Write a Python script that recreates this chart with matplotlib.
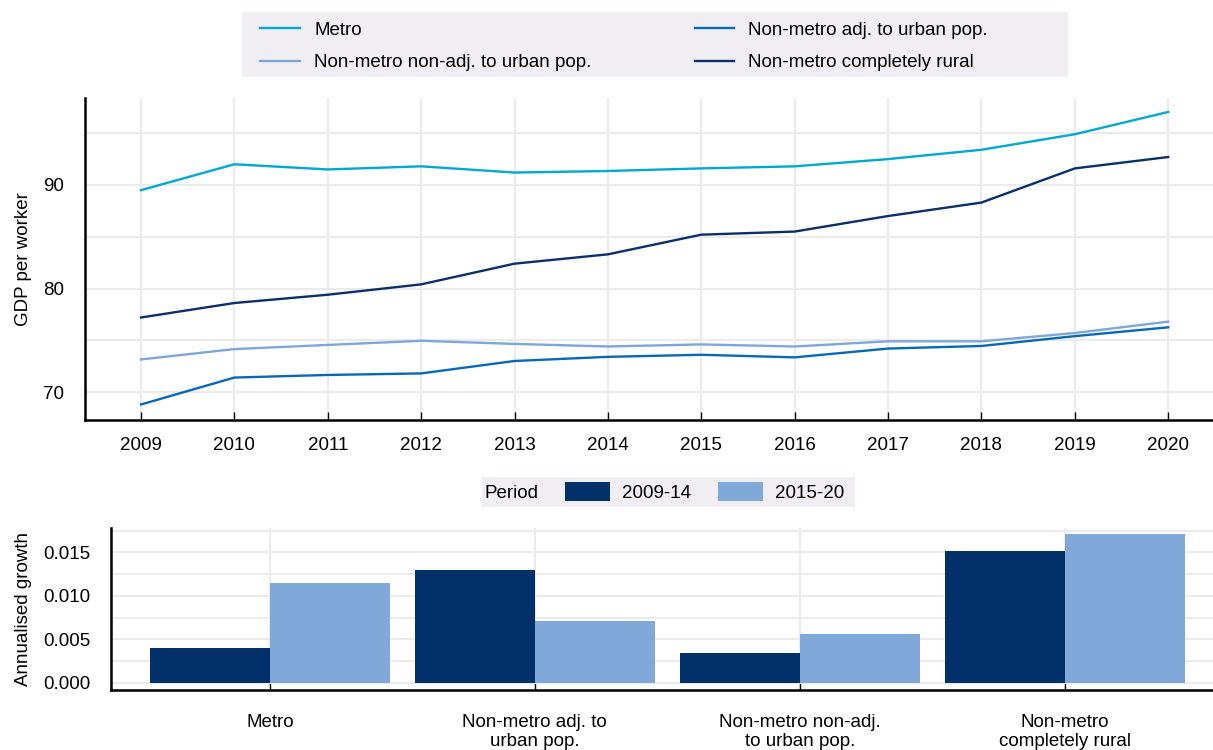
import matplotlib
matplotlib.use("Agg")
import matplotlib.pyplot as plt
import numpy as np
from matplotlib.ticker import MultipleLocator, FormatStrFormatter
from matplotlib.patches import Rectangle

plt.rcParams['font.family'] = ['Liberation Sans', 'DejaVu Sans']
FS = 13.5

years = [2009, 2010, 2011, 2012, 2013, 2014, 2015, 2016, 2017, 2018, 2019, 2020]
metro = [89.5, 92.0, 91.5, 91.8, 91.2, 91.35, 91.6, 91.8, 92.5, 93.4, 94.9, 97.05]
adj = [68.8, 71.4, 71.65, 71.8, 73.0, 73.4, 73.6, 73.35, 74.2, 74.45, 75.4, 76.25]
nonadj = [73.15, 74.15, 74.55, 74.95, 74.65, 74.4, 74.6, 74.4, 74.9, 74.9, 75.7, 76.8]
rural = [77.2, 78.6, 79.4, 80.4, 82.4, 83.3, 85.2, 85.5, 87.0, 88.3, 91.6, 92.7]

categories = ["Metro", "Non-metro adj. to\nurban pop.", "Non-metro non-adj.\nto urban pop.",
              "Non-metro\ncompletely rural"]
growth_0914 = [0.00404, 0.01293, 0.00343, 0.01521]
growth_1520 = [0.01143, 0.00712, 0.00562, 0.01706]

c_metro = "#00a9d0"
c_adj = "#0868b8"
c_nonadj = "#7ea6d9"
c_rural = "#0a2f6b"
c_dark = "#023069"
c_light = "#80a8d8"
grid_c = "#ebebeb"
leg_bg = "#f0eef2"

W, H = 1213, 750
fig = plt.figure(figsize=(12.13, 7.5), dpi=100)

def fx(px):
    return px / W

def fy(py):
    return 1 - py / H

# ---------- top line chart ----------
ax1 = fig.add_axes([fx(85), fy(420), 1 - fx(85), (420 - 98) / H])
l_metro, = ax1.plot(years, metro, color=c_metro, lw=1.7, label="Metro")
l_nonadj, = ax1.plot(years, nonadj, color=c_nonadj, lw=1.7, label="Non-metro non-adj. to urban pop.")
l_adj, = ax1.plot(years, adj, color=c_adj, lw=1.7, label="Non-metro adj. to urban pop.")
l_rural, = ax1.plot(years, rural, color=c_rural, lw=1.7, label="Non-metro completely rural")
ax1.set_xlim(2008.4, 2020.48)
ax1.set_ylim(67.3, 98.4)
ax1.set_xticks(years)
ax1.yaxis.set_major_locator(MultipleLocator(10))
ax1.yaxis.set_minor_locator(MultipleLocator(5))
ax1.grid(True, which='both', color=grid_c, lw=1.5)
ax1.set_axisbelow(True)
for s in ["top", "right"]:
    ax1.spines[s].set_visible(False)
for s in ["left", "bottom"]:
    ax1.spines[s].set_linewidth(1.8)
ax1.tick_params(axis='x', direction='in', length=6, width=1, pad=12, labelsize=FS)
ax1.tick_params(axis='y', which='both', length=0, pad=15, labelsize=FS)
ax1.set_ylabel("GDP per worker", fontsize=FS, labelpad=8)

fig.patches.append(Rectangle((fx(242), fy(77)), fx(1068 - 242), (77 - 12) / H,
                             transform=fig.transFigure, facecolor=leg_bg,
                             edgecolor='none', zorder=0))
leg1 = fig.legend([l_metro, l_nonadj, l_adj, l_rural],
                  ["Metro", "Non-metro non-adj. to urban pop.",
                   "Non-metro adj. to urban pop.", "Non-metro completely rural"],
                  ncol=2, loc='center left', bbox_to_anchor=(fx(260), fy(46.5)),
                  frameon=False, fontsize=FS, handlelength=2.13, columnspacing=5.5,
                  handletextpad=0.75, borderpad=0, borderaxespad=0, labelspacing=0.82)

# ---------- bottom bar chart ----------
ax2 = fig.add_axes([fx(111), fy(690), 1 - fx(111), (690 - 528) / H])
x = np.arange(len(categories))
w = 0.453
b1 = ax2.bar(x - w / 2, growth_0914, width=w, color=c_dark, label="2009-14")
b2 = ax2.bar(x + w / 2, growth_1520, width=w, color=c_light, label="2015-20")
ax2.set_xlim(-0.6, 3.56)
ax2.set_ylim(-0.00084, 0.0178)
ax2.set_xticks(x)
ax2.set_xticklabels(categories)
ax2.yaxis.set_major_locator(MultipleLocator(0.005))
ax2.yaxis.set_minor_locator(MultipleLocator(0.0025))
ax2.yaxis.set_major_formatter(FormatStrFormatter('%.3f'))
ax2.grid(True, which='both', color=grid_c, lw=1.5)
ax2.set_axisbelow(True)
for s in ["top", "right"]:
    ax2.spines[s].set_visible(False)
for s in ["left", "bottom"]:
    ax2.spines[s].set_linewidth(1.8)
ax2.tick_params(axis='x', direction='in', length=6, width=1, pad=17, labelsize=FS)
ax2.tick_params(axis='y', which='both', length=0, pad=15, labelsize=FS)
ax2.set_ylabel("Annualised growth", fontsize=FS, labelpad=8)

fig.patches.append(Rectangle((fx(482), fy(507)), fx(855 - 482), (507 - 477) / H,
                             transform=fig.transFigure, facecolor=leg_bg,
                             edgecolor='none', zorder=0))
fig.text(fx(484), fy(492), "Period", fontsize=FS, ha='left', va='center_baseline')
leg2 = fig.legend([b1, b2], ["2009-14", "2015-20"], ncol=2, loc='center left',
                  bbox_to_anchor=(fx(565), fy(492)), frameon=False, fontsize=FS,
                  handlelength=2.4, handleheight=1.12, columnspacing=1.44,
                  handletextpad=0.64, borderpad=0, borderaxespad=0)

fig.savefig("out.png", dpi=100)
